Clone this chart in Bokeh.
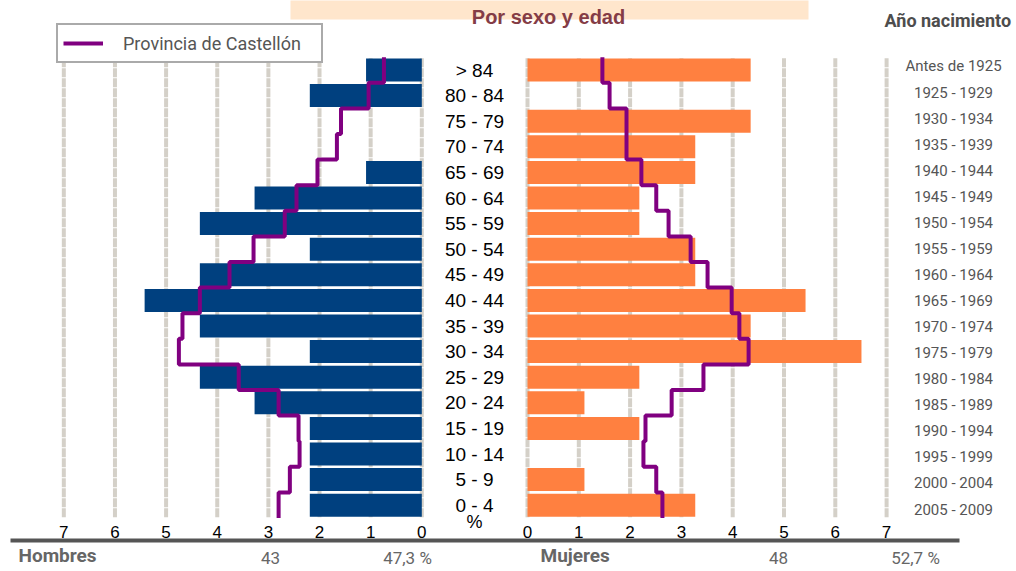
from bokeh.plotting import figure
from bokeh.models import Range1d, Legend, LegendItem, ColumnDataSource
from bokeh.core.properties import value
from bokeh.embed import file_html
from bokeh.resources import INLINE

# ---------------- data (top row first) ----------------
ages = ["> 84", "80 - 84", "75 - 79", "70 - 74", "65 - 69", "60 - 64", "55 - 59",
        "50 - 54", "45 - 49", "40 - 44", "35 - 39", "30 - 34", "25 - 29",
        "20 - 24", "15 - 19", "10 - 14", "5 - 9", "0 - 4"]
years = ["Antes de 1925", "1925 - 1929", "1930 - 1934", "1935 - 1939", "1940 - 1944",
         "1945 - 1949", "1950 - 1954", "1955 - 1959", "1960 - 1964", "1965 - 1969",
         "1970 - 1974", "1975 - 1979", "1980 - 1984", "1985 - 1989", "1990 - 1994",
         "1995 - 1999", "2000 - 2004", "2005 - 2009"]
men_pct = [1.09, 2.19, 0.0, 0.0, 1.09, 3.27, 4.34, 2.19, 4.34, 5.42, 4.34, 2.19,
           4.34, 3.27, 2.19, 2.19, 2.19, 2.19]
women_pct = [4.35, 0.0, 4.35, 3.27, 3.27, 2.18, 2.18, 3.27, 3.27, 5.42, 4.35, 6.51,
             2.18, 1.11, 2.18, 0.0, 1.11, 3.27]
prov_men = [0.74, 1.04, 1.58, 1.66, 2.04, 2.45, 2.68, 3.29, 3.76, 4.34, 4.68, 4.75,
            3.58, 2.80, 2.41, 2.39, 2.58, 2.80]
prov_women = [1.46, 1.60, 1.93, 1.93, 2.22, 2.51, 2.75, 3.18, 3.51, 3.98, 4.13, 4.31,
              3.43, 2.81, 2.30, 2.26, 2.51, 2.63]
ticks = [0, 1, 2, 3, 4, 5, 6, 7]
tick_labels = ["0", "1", "2", "3", "4", "5", "6", "7"]
men_total = ["43", "47,3 %"]
women_total = ["48", "52,7 %"]
title_text = "Por sexo y edad"
legend_label = "Provincia de Castellón"

# ---------------- layout constants (pixels) ----------------
W, H = 1016, 571
ROW0_Y = 504.7      # pixel y of bottom row centre
PITCH = 25.6
YEAR0_Y, YEAR_PITCH = 509.0, 26.06
MEN_ZERO, MEN_SCALE = 421.3, 51.14
WOM_ZERO, WOM_SCALE = 527.0, 51.3

NAVY = "#00407F"
ORANGE = "#FF8040"
PURPLE = "#800080"
GRID = "#D4D0C8"
NARROW = value("Roboto")
SANS = value("Liberation Sans")

p = figure(width=W, height=H, x_range=Range1d(0, W), y_range=Range1d(H, 0),
           output_backend="svg", toolbar_location=None, min_border=0,
           x_axis_location=None, y_axis_location=None, outline_line_color=None)
p.grid.visible = False
p.background_fill_color = "white"

p.extra_x_ranges = {
    "men": Range1d(MEN_ZERO / MEN_SCALE, (MEN_ZERO - W) / MEN_SCALE),
    "women": Range1d(-WOM_ZERO / WOM_SCALE, (W - WOM_ZERO) / WOM_SCALE),
}
p.extra_y_ranges = {
    "rows": Range1d((ROW0_Y - H) / PITCH, ROW0_Y / PITCH),
    "years": Range1d((YEAR0_Y - H) / YEAR_PITCH, YEAR0_Y / YEAR_PITCH),
}

n = len(ages)
k = [n - 1 - i for i in range(n)]

# gridlines
for rn in ("men", "women"):
    p.segment(x0=ticks, x1=ticks, y0=[-0.47] * len(ticks), y1=[n - 1 + 0.47] * len(ticks),
              x_range_name=rn, y_range_name="rows", line_color=GRID, line_width=4,
              line_dash="9 1")

# bars
src = ColumnDataSource(dict(k=k, men=men_pct, women=women_pct, ages=ages, years=years))
p.hbar(y="k", left=0, right="men", height=0.9, source=src, x_range_name="men",
       y_range_name="rows", fill_color=NAVY, line_color=None)
p.hbar(y="k", left=0, right="women", height=0.9, source=src, x_range_name="women",
       y_range_name="rows", fill_color=ORANGE, line_color=None)

# province step lines
def step_path(vals):
    xs, ys = [], []
    for kk, v in zip(k, vals):
        xs += [v, v]
        ys += [kk + 0.5, kk - 0.5]
    return xs, ys

mx, my = step_path(prov_men)
wx, wy = step_path(prov_women)
r_men = p.line(mx, my, x_range_name="men", y_range_name="rows", line_color=PURPLE,
               line_width=4)
p.line(wx, wy, x_range_name="women", y_range_name="rows", line_color=PURPLE,
       line_width=4)

legend = Legend(items=[LegendItem(label=legend_label, renderers=[r_men])],
                location=(56, H - 63), padding=5, margin=0, glyph_width=40,
                glyph_height=26, label_height=26, label_width=193, label_standoff=20,
                label_text_font="Roboto", label_text_font_size="18px",
                label_text_color="#555555", border_line_color="#555555",
                border_line_width=2, background_fill_alpha=1.0)
p.add_layout(legend)

# age labels and year labels
p.text(x=474, y="k", text="ages", source=src, y_range_name="rows",
       text_align="center", text_baseline="middle", text_font=SANS,
       text_font_size="19px", text_color="black")
p.text(x=953, y="k", text="years", source=src, y_range_name="years",
       text_align="center", text_baseline="middle", text_font=NARROW,
       text_font_size="15px", text_color="#555555")

# tick labels
p.text(x=ticks, y=[531] * len(ticks), text=tick_labels, x_range_name="men",
       text_align="center", text_baseline="middle", text_font=SANS,
       text_font_size="17px", text_color="black")
p.text(x=ticks, y=[531] * len(ticks), text=tick_labels, x_range_name="women",
       text_align="center", text_baseline="middle", text_font=SANS,
       text_font_size="17px", text_color="black")
p.text(x=[474], y=[521], text=["%"], text_align="center", text_baseline="middle",
       text_font=SANS, text_font_size="18px", text_color="black")

# bottom rule
p.segment(x0=[10], x1=[959], y0=[540], y1=[540], line_color="#555555", line_width=4)

# bottom totals
p.text(x=[18], y=[555], text=["Hombres"], text_align="left", text_baseline="middle",
       text_font=NARROW, text_font_style="bold", text_font_size="19px",
       text_color="#666666")
p.text(x=[540], y=[555], text=["Mujeres"], text_align="left", text_baseline="middle",
       text_font=NARROW, text_font_style="bold", text_font_size="19px",
       text_color="#666666")
p.text(x=[270, 407], y=[557, 557], text=men_total, text_align="center",
       text_baseline="middle", text_font=NARROW, text_font_size="17px",
       text_color="#666666")
p.text(x=[778, 915], y=[557, 557], text=women_total, text_align="center",
       text_baseline="middle", text_font=NARROW, text_font_size="17px",
       text_color="#666666")

# title box
p.quad(left=[290], right=[808], top=[-5], bottom=[19], fill_color="#FFE6CC",
       line_color=None)
p.text(x=[548], y=[16], text=[title_text], text_align="center",
       text_baseline="alphabetic", text_font=SANS, text_font_style="bold",
       text_font_size="20px", text_color="#843C46")
p.text(x=[884], y=[20], text=["Año nacimiento"], text_align="left",
       text_baseline="middle", text_font=NARROW, text_font_style="bold",
       text_font_size="18px", text_color="#4D4D4D")

open("out.html", "w").write(file_html(p, INLINE))
